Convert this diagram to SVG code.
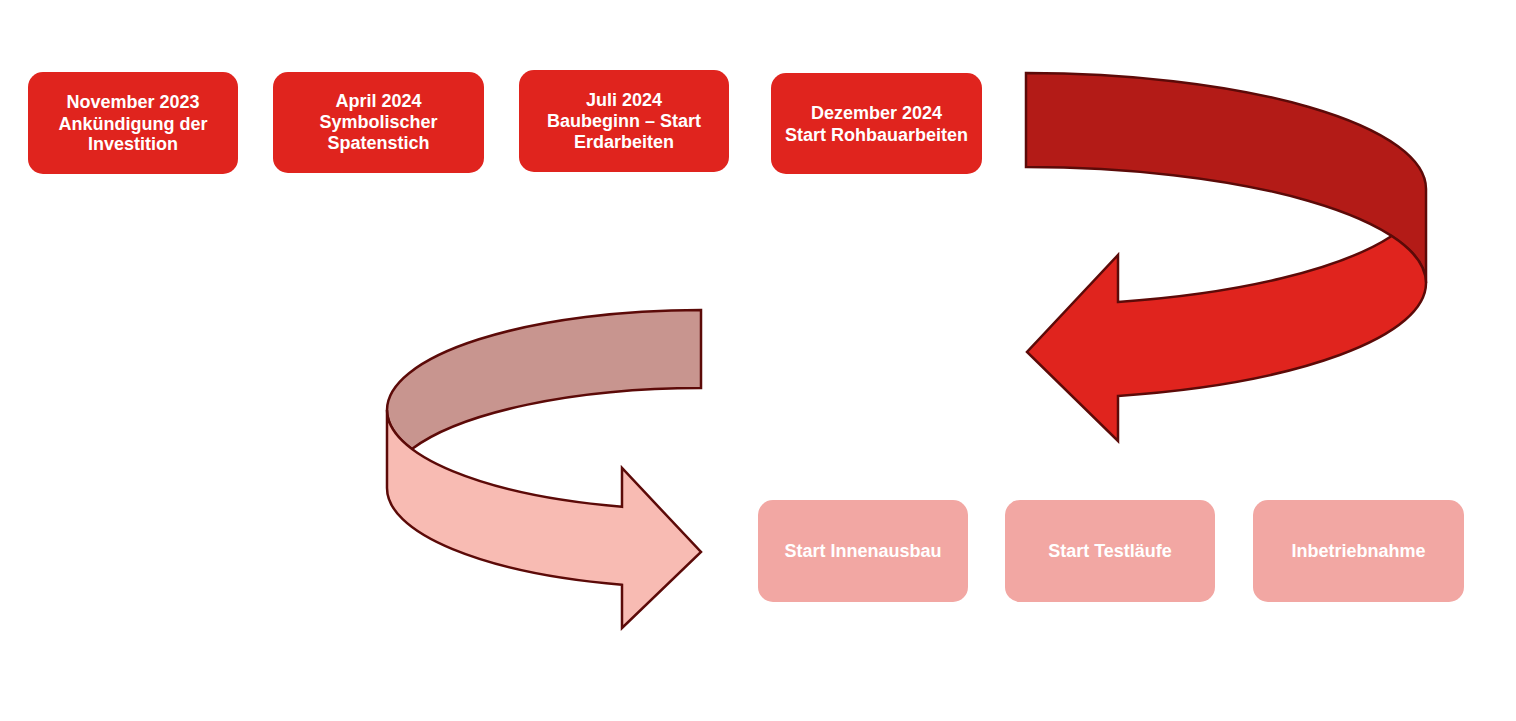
<svg xmlns="http://www.w3.org/2000/svg" width="1516" height="721" viewBox="0 0 1516 721">
<style>
.top{fill:#E0241E}
.bot{fill:#F2A7A3}
.t{font-family:"Liberation Sans",Arial,sans-serif;font-weight:bold;font-size:18px;fill:#ffffff;text-anchor:middle}
.s1{stroke:#5C0A08;stroke-width:2.5;stroke-linejoin:miter}
</style>
<rect width="1516" height="721" fill="#ffffff"/>
<g id="connectors">
  <g id="arrow1">
    <path class="s1" fill="#B31B17" d="M1026,73 A400,116 0 0 1 1426,189 L1426,283 A400,116 0 0 0 1026,167 Z"/>
    <path class="s1" fill="#E0241E" d="M1391.7,236 A400,116 0 0 1 1118,301.9 L1118,255 L1027,352 L1118,441 L1118,395.9 A400,116 0 0 0 1426,283 A400,116 0 0 0 1391.7,236 Z"/>
  </g>
  <g id="arrow2">
    <path class="s1" fill="#C8958F" d="M701,310 A314,100 0 0 0 387,410 A314,100 0 0 0 411.9,449 A314,100 0 0 1 701,388 Z"/>
    <path class="s1" fill="#F8BBB3" d="M387,410 A314,100 0 0 0 622,506.8 L622,468 L701,552 L622,628 L622,584.8 A314,100 0 0 1 387,488 Z"/>
  </g>
</g>
<g id="n1">
  <rect class="top" x="28" y="72" width="210" height="102" rx="15"/>
  <text class="t" x="133" y="108">November 2023</text>
  <text class="t" x="133" y="129.5">Ankündigung der</text>
  <text class="t" x="133" y="150">Investition</text>
</g>
<g id="n2">
  <rect class="top" x="273" y="72" width="211" height="101" rx="15"/>
  <text class="t" x="378.5" y="107">April 2024</text>
  <text class="t" x="378.5" y="128">Symbolischer</text>
  <text class="t" x="378.5" y="149">Spatenstich</text>
</g>
<g id="n3">
  <rect class="top" x="519" y="70" width="210" height="102" rx="15"/>
  <text class="t" x="624" y="106">Juli 2024</text>
  <text class="t" x="624" y="127">Baubeginn – Start</text>
  <text class="t" x="624" y="148">Erdarbeiten</text>
</g>
<g id="n4">
  <rect class="top" x="771" y="73" width="211" height="101" rx="15"/>
  <text class="t" x="876.5" y="119">Dezember 2024</text>
  <text class="t" x="876.5" y="140.5">Start Rohbauarbeiten</text>
</g>
<g id="n5">
  <rect class="bot" x="758" y="500" width="210" height="102" rx="15"/>
  <text class="t" x="863" y="557">Start Innenausbau</text>
</g>
<g id="n6">
  <rect class="bot" x="1005" y="500" width="210" height="102" rx="15"/>
  <text class="t" x="1110" y="557">Start Testläufe</text>
</g>
<g id="n7">
  <rect class="bot" x="1253" y="500" width="211" height="102" rx="15"/>
  <text class="t" x="1358.5" y="557">Inbetriebnahme</text>
</g>
</svg>
